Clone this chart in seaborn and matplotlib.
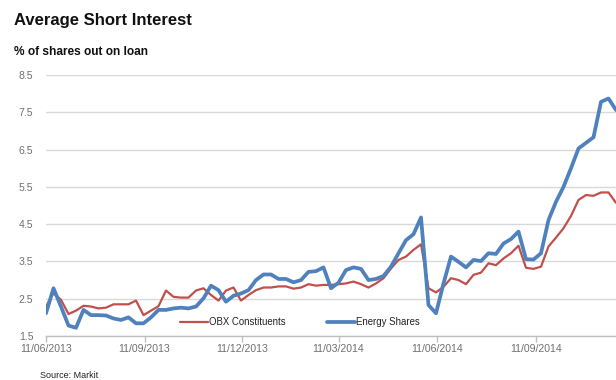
import matplotlib
matplotlib.use("Agg")
import matplotlib.pyplot as plt
import matplotlib.dates as mdates
import seaborn as sns
import pandas as pd

# Weekly average short interest, % of shares out on loan
start_date = "2013-06-11"

obx_constituents = [
    2.29, 2.65, 2.47, 2.09, 2.18, 2.31, 2.29, 2.24, 2.26, 2.35,
    2.35, 2.35, 2.45, 2.06, 2.18, 2.30, 2.72, 2.55, 2.53, 2.53,
    2.72, 2.78, 2.60, 2.45, 2.72, 2.80, 2.45, 2.60, 2.73, 2.80,
    2.80, 2.83, 2.83, 2.77, 2.80, 2.89,
    2.85, 2.87, 2.87, 2.89, 2.91, 2.96, 2.89, 2.80, 2.91, 3.05,
    3.31, 3.54, 3.63, 3.81, 3.96, 2.78, 2.67, 2.82, 3.05, 3.00,
    2.89, 3.14, 3.20, 3.45, 3.40, 3.58, 3.72, 3.92, 3.33, 3.30,
    3.36, 3.90, 4.14, 4.39, 4.72, 5.15, 5.28, 5.26, 5.35, 5.35,
    5.07,
]

energy_shares = [
    2.11, 2.78, 2.29, 1.78, 1.72, 2.20, 2.06, 2.06, 2.05, 1.97,
    1.93, 2.00, 1.84, 1.84, 2.00, 2.20, 2.20, 2.24, 2.26, 2.24,
    2.29, 2.51, 2.85, 2.73, 2.42, 2.58, 2.64, 2.73, 3.00, 3.15,
    3.15, 3.03, 3.03, 2.94, 3.00, 3.22,
    3.24, 3.34, 2.78, 2.93, 3.27, 3.34, 3.30, 3.00, 3.03, 3.11,
    3.36, 3.72, 4.07, 4.23, 4.68, 2.33, 2.11, 2.91, 3.63, 3.49,
    3.34, 3.54, 3.51, 3.72, 3.70, 3.98, 4.10, 4.30, 3.56, 3.55,
    3.72, 4.61, 5.10, 5.50, 6.00, 6.53, 6.68, 6.83, 7.78, 7.87,
    7.56,
]

series_names = ["OBX Constituents", "Energy Shares"]
y_ticks = [1.5, 2.5, 3.5, 4.5, 5.5, 6.5, 7.5, 8.5]
x_tick_dates = ["2013-06-11", "2013-09-11", "2013-12-11",
                "2014-03-11", "2014-06-11", "2014-09-11"]

dates = pd.date_range(start_date, periods=len(obx_constituents), freq="7D")
df = pd.concat([
    pd.DataFrame({"date": dates, "value": obx_constituents, "series": series_names[0]}),
    pd.DataFrame({"date": dates, "value": energy_shares, "series": series_names[1]}),
], ignore_index=True)

sns.set_theme(style="white")
plt.rcParams["font.family"] = ["Liberation Sans", "DejaVu Sans"]

fig = plt.figure(figsize=(6.16, 3.80), dpi=100)
ax = fig.add_axes([46 / 616, 44 / 380, 570 / 616, 261 / 380])

palette = {series_names[0]: "#C0504D", series_names[1]: "#4F81BD"}
sizes = {series_names[0]: 1.6, series_names[1]: 2.7}
sns.lineplot(data=df, x="date", y="value", hue="series", size="series",
             sizes=sizes, palette=palette, hue_order=series_names,
             ax=ax, legend=False, zorder=3)

ax.set_xlim(dates[0], dates[-1])
ax.set_ylim(y_ticks[0], y_ticks[-1])
ax.set_yticks(y_ticks)
ax.set_yticklabels([f"{v:.1f}" for v in y_ticks])
ax.set_xticks(pd.to_datetime(x_tick_dates))
ax.xaxis.set_major_formatter(mdates.DateFormatter("%d/%m/%Y"))
ax.set_xlabel("")
ax.set_ylabel("")

ax.grid(axis="y", color="#D9D9D9", linewidth=1.0)
ax.grid(axis="x", visible=False)
for side in ["top", "right", "left"]:
    ax.spines[side].set_visible(False)
ax.spines["bottom"].set_color("#BFBFBF")
ax.spines["bottom"].set_linewidth(1.0)

ax.tick_params(axis="y", length=0, pad=9, labelsize=7.6, labelcolor="#707070")
ax.tick_params(axis="x", length=4, width=1.0, color="#BFBFBF", direction="out",
               bottom=True, pad=2, labelsize=7.6, labelcolor="#707070")

handles = [plt.Line2D([], [], color=palette[n], linewidth=sizes[n]) for n in series_names]
ax.legend(handles, series_names, loc="center", bbox_to_anchor=(0.446, 0.054),
          ncol=2, frameon=False, fontsize=6.9, handlelength=2.9,
          handletextpad=0.12, columnspacing=4.3, labelcolor="#222222")

fig.text(14 / 616, 1 - 20 / 380, "Average Short Interest", fontsize=12,
         fontweight="bold", ha="left", va="center", color="#111111")
fig.text(14 / 616, 1 - 52 / 380, "% of shares out on loan", fontsize=8.6,
         fontweight="bold", ha="left", va="center", color="#111111")
fig.text(40 / 616, 1 - 376 / 380, "Source: Markit", fontsize=6.5,
         ha="left", va="center", color="#222222")

fig.savefig("out.png", dpi=100)
